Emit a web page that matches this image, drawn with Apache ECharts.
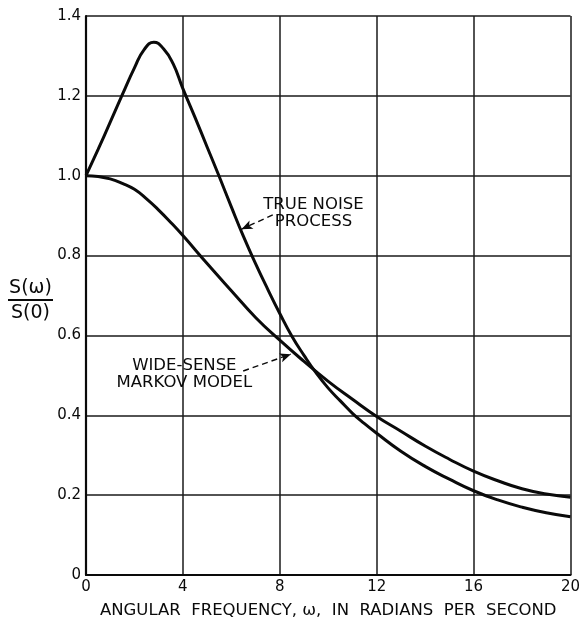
<!DOCTYPE html>
<html>
<head>
<meta charset="utf-8">
<script src="https://cdn.jsdelivr.net/npm/echarts@6/dist/echarts.min.js"></script>
<style>
  html, body { margin: 0; padding: 0; background: #fff; }
  #chart { width: 583px; height: 624px; }
</style>
</head>
<body>
<div id="chart"></div>
<script>
// Normalised spectral density S(ω)/S(0) against angular frequency ω (rad/s)
const xTicks = [0, 4, 8, 12, 16, 20];
const yTicks = [0, 0.2, 0.4, 0.6, 0.8, 1.0, 1.2, 1.4];

const trueNoise = [
  [0, 1.0], [0.5, 1.066], [1, 1.134], [1.5, 1.203], [2, 1.27], [2.4, 1.316],
  [2.8, 1.334], [3.2, 1.318], [3.6, 1.28], [4, 1.218], [4.5, 1.146], [5, 1.072],
  [5.5, 0.998], [6, 0.922], [6.5, 0.848], [7, 0.78], [7.5, 0.716], [8, 0.655],
  [8.5, 0.598], [9, 0.55], [9.5, 0.506], [10, 0.468], [10.5, 0.436], [11, 0.405],
  [11.5, 0.379], [12, 0.355], [13, 0.31], [14, 0.272], [15, 0.24], [16, 0.211],
  [17, 0.188], [18, 0.17], [19, 0.156], [20, 0.146]
];

const markovModel = [
  [0, 1.0], [0.5, 0.998], [1, 0.992], [1.5, 0.981], [2, 0.966], [2.5, 0.942],
  [3, 0.914], [3.5, 0.883], [4, 0.85], [5, 0.78], [6, 0.712], [7, 0.645],
  [8, 0.588], [9, 0.535], [10, 0.485], [11, 0.44], [12, 0.397], [13, 0.36],
  [14, 0.323], [15, 0.29], [16, 0.26], [17, 0.236], [18, 0.216], [19, 0.203],
  [20, 0.195]
];

// Annotation anchors in data units
const trueNoiseLabel = { text: 'TRUE NOISE\nPROCESS', at: [9.39, 0.905] };
const trueNoiseArrow = { from: [7.71, 0.902], to: [6.42, 0.866] };
const markovLabel = { text: 'WIDE-SENSE\nMARKOV MODEL', at: [4.06, 0.503] };
const markovArrow = { from: [6.49, 0.511], to: [8.46, 0.553] };

const FONT = '"DejaVu Sans", sans-serif';
const INK = '#0a0a0a';

const chart = echarts.init(document.getElementById('chart'), null, { renderer: 'canvas' });

function arrowLine(a, curve) {
  return {
    silent: true,
    symbol: ['none', 'arrow'],
    symbolSize: [7, 11],
    label: { show: false },
    lineStyle: { color: INK, width: 1.4, type: [6, 4], curveness: curve },
    data: [[{ coord: a.from }, { coord: a.to }]]
  };
}

chart.setOption({
  animation: false,
  backgroundColor: '#fff',
  grid: { left: 86, right: 7, top: 16, bottom: 38 },
  xAxis: {
    type: 'value', min: 0, max: 20, interval: 4,
    axisLine: { show: true, lineStyle: { color: INK, width: 2.2 } },
    axisTick: { show: false },
    splitLine: { show: true, lineStyle: { color: '#1a1a1a', width: 1.5 } },
    axisLabel: { color: INK, fontFamily: FONT, fontSize: 15, margin: 5 },
    name: 'ANGULAR  FREQUENCY, \u03c9,  IN  RADIANS  PER  SECOND',
    nameLocation: 'middle', nameGap: 27,
    nameTextStyle: { color: INK, fontFamily: FONT, fontSize: 16.5 }
  },
  yAxis: {
    type: 'value', min: 0, max: 1.4, interval: 0.2,
    axisLine: { show: true, lineStyle: { color: INK, width: 2.2 } },
    axisTick: { show: false },
    splitLine: { show: true, lineStyle: { color: '#1a1a1a', width: 1.5 } },
    axisLabel: {
      color: INK, fontFamily: FONT, fontSize: 15, margin: 5,
      formatter: v => (v === 0 ? '0' : v.toFixed(1))
    }
  },
  series: [
    {
      name: 'True noise process', type: 'line', data: trueNoise,
      smooth: 0.5, showSymbol: false,
      lineStyle: { color: INK, width: 3 },
      markLine: arrowLine(trueNoiseArrow, 0.15)
    },
    {
      name: 'Wide-sense Markov model', type: 'line', data: markovModel,
      smooth: 0.5, showSymbol: false,
      lineStyle: { color: INK, width: 3 },
      markLine: arrowLine(markovArrow, 0.2)
    }
  ]
});

// Text labels placed through the axis scales, plus the ratio title on the left
function place(p) { return chart.convertToPixel({ gridIndex: 0 }, p); }
const p1 = place(trueNoiseLabel.at);
const p2 = place(markovLabel.at);
const labelStyle = (t) => ({
  text: t, fill: INK, font: '16.5px ' + FONT,
  align: 'center', verticalAlign: 'middle', lineHeight: 17
});
chart.setOption({
  graphic: [
    { type: 'text', x: p1[0], y: p1[1], style: labelStyle(trueNoiseLabel.text) },
    { type: 'text', x: p2[0], y: p2[1], style: labelStyle(markovLabel.text) },
    { type: 'text', x: 30.5, y: 288, style: { text: 'S(\u03c9)', fill: INK, font: '19px ' + FONT, align: 'center', verticalAlign: 'middle' } },
    { type: 'line', shape: { x1: 8, y1: 300, x2: 53, y2: 300 }, style: { stroke: INK, lineWidth: 1.8 } },
    { type: 'text', x: 30.5, y: 313.5, style: { text: 'S(0)', fill: INK, font: '19px ' + FONT, align: 'center', verticalAlign: 'middle' } }
  ]
});
</script>
</body>
</html>
